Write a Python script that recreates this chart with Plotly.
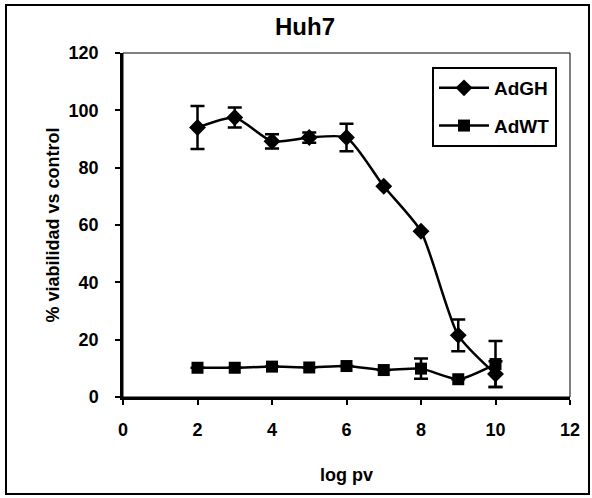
import plotly.graph_objects as go

x_vals = [2, 3, 4, 5, 6, 7, 8, 9, 10]
adgh = [94, 97.5, 89.2, 90.5, 90.5, 73.5, 57.8, 21.5, 8]
adgh_err = [7.5, 3.5, 2.5, 1.8, 4.8, 0, 0, 5.5, 4.5]
adwt = [10.2, 10.2, 10.6, 10.3, 10.8, 9.4, 9.9, 6.2, 11.5]
adwt_err = [0, 0, 0, 0, 0, 0, 3.5, 0, 8]
x_ticks = [0, 2, 4, 6, 8, 10, 12]
y_ticks = [0, 20, 40, 60, 80, 100, 120]

FONT = "Liberation Sans"
L, R, T, B = 123, 570, 53, 397
W, H = 592, 498

def px(p):
    return (p - L) / (R - L)

def py(p):
    return (B - p) / (B - T)

fig = go.Figure()
fig.add_trace(go.Scatter(
    x=x_vals, y=adgh, name="<b>AdGH</b>", mode="lines+markers", legendgroup="a",
    line=dict(color="black", width=2.5, shape="spline", smoothing=0.6),
    marker=dict(symbol="diamond", size=13, color="black"),
    error_y=dict(type="data", array=adgh_err, color="black", thickness=2.5, width=7),
))
fig.add_trace(go.Scatter(
    x=x_vals, y=adwt, name="<b>AdWT</b>", mode="lines+markers", legendgroup="b",
    line=dict(color="black", width=2.5, shape="spline", smoothing=0.6),
    marker=dict(symbol="square", size=12, color="black"),
    error_y=dict(type="data", array=adwt_err, color="black", thickness=2.5, width=7),
))

fig.update_layout(
    width=W, height=H,
    margin=dict(l=L, r=W - R, t=T, b=H - B, autoexpand=False),
    paper_bgcolor="white", plot_bgcolor="white",
    font=dict(family=FONT, color="black", size=18),
    title=dict(text="<b>Huh7</b>", x=305 / W, xanchor="center", y=1 - 27 / H, yanchor="middle",
               font=dict(size=24, family=FONT)),
    showlegend=True,
    legend=dict(x=px(432), y=py(67), xanchor="left", yanchor="top",
                bordercolor="black", borderwidth=2, bgcolor="white",
                font=dict(size=19, family=FONT), itemwidth=50,
                traceorder="grouped", tracegroupgap=10),
    xaxis=dict(range=[0, 12], tickvals=x_ticks, ticktext=[f"<b>{v}</b>" for v in x_ticks],
               showgrid=False, zeroline=False, showline=True, linecolor="black", linewidth=2.5,
               ticks="outside", ticklen=5, tickwidth=2, tickcolor="black",
               tickfont=dict(size=18), ticklabelstandoff=10,
               title=dict(text="<b>log pv</b>", font=dict(size=18), standoff=30)),
    yaxis=dict(range=[0, 120], tickvals=y_ticks, ticktext=[f"<b>{v}</b>" for v in y_ticks],
               showgrid=False, zeroline=False, showline=True, linecolor="black", linewidth=2.5,
               ticks="outside", ticklen=5, tickwidth=2, tickcolor="black",
               tickfont=dict(size=18), ticklabelstandoff=13,
               title=dict(text="<b>% viabilidad vs control</b>", font=dict(size=18), standoff=5)),
)

# plot-area frame (thin) and outer chart border
fig.add_shape(type="rect", xref="paper", yref="paper", x0=0, x1=1, y0=0, y1=1,
              line=dict(color="black", width=1))
fig.add_shape(type="rect", xref="paper", yref="paper",
              x0=px(6), x1=px(589), y0=py(494), y1=py(5),
              line=dict(color="black", width=2))

fig.write_html("out.html", config={"displayModeBar": False},
               post_script="document.body.style.margin='0';")
